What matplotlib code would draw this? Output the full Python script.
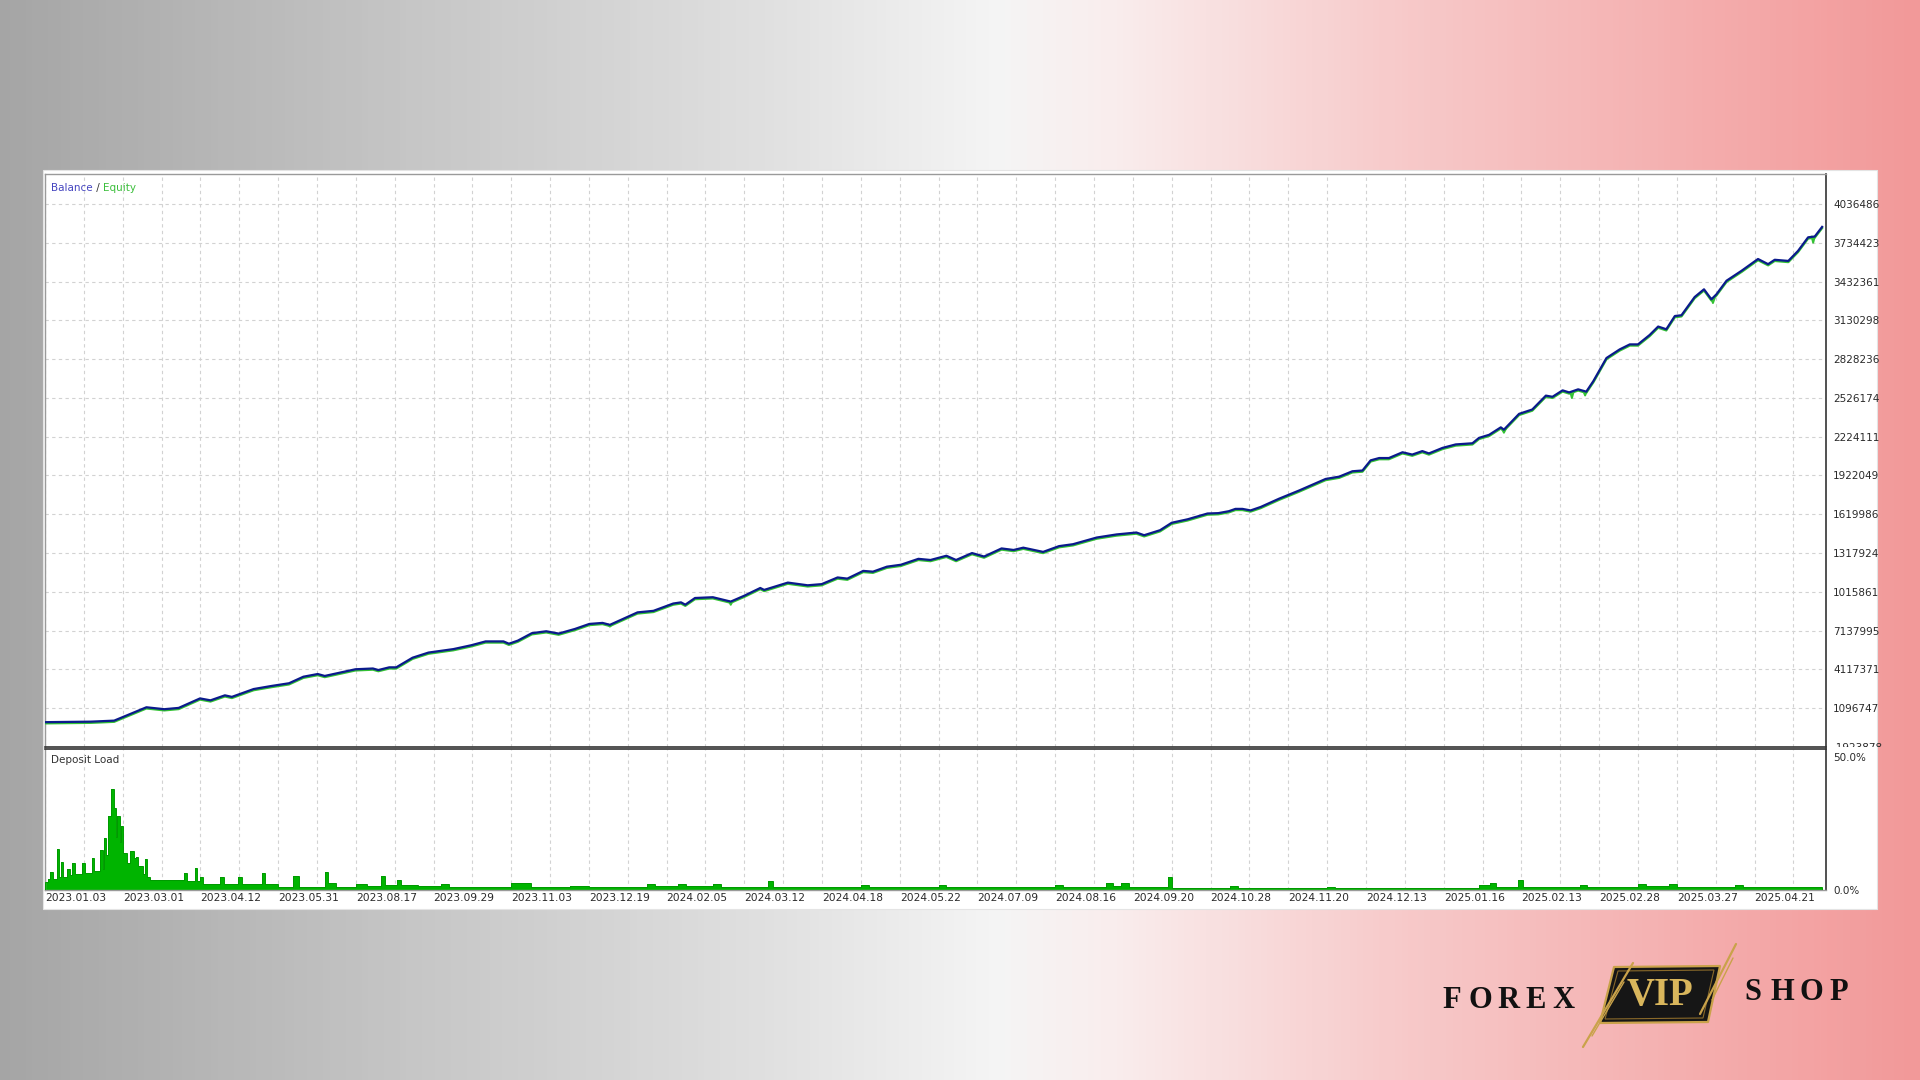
import numpy as np
import matplotlib
matplotlib.use("Agg")
import matplotlib.pyplot as plt
from matplotlib.colors import LinearSegmentedColormap
from matplotlib.patches import Rectangle, Polygon
from matplotlib.transforms import Bbox, TransformedBbox, offset_copy

# ---------------- data ----------------
date_labels = ["2023.01.03", "2023.03.01", "2023.04.12", "2023.05.31", "2023.08.17",
               "2023.09.29", "2023.11.03", "2023.12.19", "2024.02.05", "2024.03.12",
               "2024.04.18", "2024.05.22", "2024.07.09", "2024.08.16", "2024.09.20",
               "2024.10.28", "2024.11.20", "2024.12.13", "2025.01.16", "2025.02.13",
               "2025.02.28", "2025.03.27", "2025.04.21"]
date_pos = [0, 2, 4, 6, 8, 10, 12, 14, 16, 18, 20, 22, 24, 26, 28, 30, 32, 34, 36, 38, 40, 42, 44]

ytick_labels = ["-1923878", "1096747", "4117371", "7137995", "1015861", "1317924",
                "1619986", "1922049", "2224111", "2526174", "2828236", "3130298",
                "3432361", "3734423", "4036486"]
ytick_values = [-1.923878, 1.096747, 4.117371, 7.137995, 10.158619, 13.179244,
                16.199868, 19.220492, 22.241116, 25.261741, 28.282365, 31.302989,
                34.323613, 37.344238, 40.364862]  # millions

deal_pos = [0.00, 1.18, 1.78, 2.61, 3.07, 3.44, 3.99, 4.26, 4.63, 4.81, 5.37, 5.83, 6.28,
            6.65, 7.02, 7.20, 7.57, 7.99, 8.44, 8.58, 8.86, 9.04, 9.46, 9.87, 10.51, 10.97,
            11.34, 11.80, 11.94, 12.17, 12.53, 12.90, 13.22, 13.64, 14.01, 14.35, 14.54,
            15.25, 15.66, 16.17, 16.37, 16.48, 16.73, 17.19, 17.65, 18.00, 18.41, 18.51,
            19.12, 19.63, 19.99, 20.40, 20.65, 21.06, 21.31, 21.67, 22.03, 22.48, 22.79,
            23.20, 23.45, 23.86, 24.17, 24.62, 24.93, 25.18, 25.69, 26.10, 26.46, 27.07,
            27.58, 28.09, 28.29, 28.70, 29.00, 29.41, 29.92, 30.20, 30.47, 30.64, 30.82,
            31.03, 31.29, 31.76, 32.27, 32.96, 33.31, 33.65, 33.91, 34.12, 34.34, 34.59,
            34.94, 35.19, 35.45, 35.62, 35.97, 36.31, 36.74, 36.91, 37.17, 37.47, 37.55,
            37.94, 38.28, 38.63, 38.80, 39.06, 39.23, 39.46, 39.67, 39.85, 40.19, 40.53,
            40.79, 41.00, 41.30, 41.52, 41.73, 41.95, 42.12, 42.46, 42.70, 42.89, 43.02,
            43.28, 43.67, 44.09, 44.35, 44.52, 44.87, 45.12, 45.38, 45.55, 45.74]
balance_m = [0.01, 0.05, 0.13, 1.17, 1.02, 1.12, 1.86, 1.71, 2.10, 1.98, 2.59, 2.83, 3.04,
             3.55, 3.76, 3.61, 3.85, 4.13, 4.19, 4.07, 4.28, 4.28, 5.03, 5.43, 5.70, 6.00,
             6.30, 6.30, 6.12, 6.36, 6.94, 7.09, 6.91, 7.27, 7.66, 7.74, 7.59,
             8.56, 8.68, 9.25, 9.34, 9.16, 9.68, 9.74, 9.40, 9.86, 10.46, 10.31,
             10.88, 10.67, 10.76, 11.28, 11.19, 11.79, 11.73, 12.12, 12.27, 12.73, 12.64,
             12.97, 12.64, 13.18, 12.91, 13.54, 13.42, 13.60, 13.27, 13.72, 13.87, 14.39,
             14.63, 14.78, 14.57, 14.96, 15.54, 15.81, 16.26, 16.29, 16.44, 16.62, 16.62,
             16.50, 16.77, 17.41, 18.04, 18.95, 19.13, 19.55, 19.61, 20.40, 20.58, 20.58,
             21.03, 20.85, 21.12, 20.94, 21.37, 21.64, 21.73, 22.15, 22.39, 22.97, 22.79,
             24.02, 24.36, 25.44, 25.35, 25.85, 25.69, 25.93, 25.75, 26.56, 28.37, 29.04,
             29.43, 29.43, 30.16, 30.82, 30.61, 31.64, 31.70, 33.12, 33.72, 32.94, 33.33,
             34.39, 35.17, 36.08, 35.68, 36.02, 35.93, 36.71, 37.77, 37.83, 38.58]

# equity drawdown spikes: position, balance level, equity low
dip_pos = [14.54, 17.65, 37.55, 39.30, 39.64, 42.93, 45.51]
dip_top = [7.59, 9.40, 22.79, 25.70, 25.75, 33.00, 37.82]
dip_low = [7.45, 9.15, 22.55, 25.25, 25.45, 32.65, 37.35]

load_edges = [0.00, 0.08, 0.14, 0.20, 0.30, 0.36, 0.40, 0.46, 0.56, 0.64, 0.70, 0.76, 0.96,
              1.02, 1.20, 1.27, 1.42, 1.49, 1.52, 1.58, 1.62, 1.70, 1.77, 1.83, 1.86, 1.92,
              1.95, 2.00, 2.10, 2.20, 2.28, 2.34, 2.40, 2.46, 2.52, 2.58, 2.63, 2.70, 3.58,
              3.66, 3.86, 3.92, 4.00, 4.06, 4.50, 4.60, 4.98, 5.06, 5.58, 5.66, 6.00, 6.38,
              6.55, 7.20, 7.28, 7.50, 8.00, 8.30, 8.66, 8.76, 9.05, 9.15, 9.60, 10.2, 10.4,
              12.0, 12.5, 12.9, 13.5, 14.0, 15.5, 15.7, 16.3, 16.5, 17.2, 17.4, 18.6, 18.75,
              19.5, 21.0, 21.2, 23.0, 23.2, 26.0, 26.2, 27.3, 27.5, 27.7, 27.9, 28.9, 29.0,
              30.5, 30.7, 33.0, 33.2, 36.9, 37.2, 37.35, 37.9, 38.05, 39.5, 39.7, 41.0, 41.2,
              41.8, 42.0, 43.5, 43.7, 45.74]
load_pct = [3.0, 4.0, 6.8, 4.0, 15.5, 5.0, 10.5, 5.0, 8.0, 5.5, 10.0, 6.0,
            10.0, 6.5, 12.0, 7.0, 15.0, 8.0, 19.5, 13.0, 28.0, 38.0, 31.0, 20.0, 28.0,
            18.0, 24.0, 14.0, 10.0, 14.5, 12.0, 12.5, 9.0, 9.0, 6.0, 11.5, 5.0, 3.8,
            6.3, 3.5, 8.3, 3.5, 5.0, 2.3, 5.0, 2.3, 5.0, 2.3, 6.3, 2.3, 1.3,
            5.2, 1.3, 6.6, 2.5, 1.3, 2.3, 1.5, 5.2, 2.0, 3.8, 1.8, 1.4, 2.2,
            1.2, 2.6, 1.3, 1.2, 1.6, 1.2, 2.3, 1.4, 2.4, 1.4, 2.2, 1.3, 3.4,
            1.3, 1.1, 2.0, 1.1, 1.8, 1.1, 2.0, 1.1, 2.7, 1.6, 2.5, 1.3, 5.0,
            0.6, 1.4, 0.6, 1.2, 0.6, 2.0, 2.8, 1.2, 3.6, 1.0, 2.0, 1.1, 2.4,
            1.4, 2.2, 1.2, 2.0, 1.2]

# ---------------- figure ----------------
W, H = 1920, 1080
fig = plt.figure(figsize=(19.2, 10.8), dpi=100)

bg = fig.add_axes([0, 0, 1, 1], zorder=0)
cmap = LinearSegmentedColormap.from_list(
    "bg", [(0.0, (0.65, 0.65, 0.65)), (0.2, (0.77, 0.77, 0.77)), (0.4, (0.88, 0.88, 0.88)),
           (0.52, (0.96, 0.96, 0.96)), (0.58, (0.98, 0.93, 0.93)), (0.72, (0.97, 0.80, 0.80)),
           (0.86, (0.96, 0.70, 0.70)), (1.0, (0.95, 0.60, 0.60))])
bg.imshow(np.linspace(0, 1, 600)[None, :], cmap=cmap, extent=[0, W, H, 0], aspect="auto")
bg.set_xlim(0, W)
bg.set_ylim(H, 0)
bg.axis("off")
bg.add_patch(Rectangle((43, 170), 1834, 739, facecolor="white", edgecolor="#e4e4e4", lw=0.8))

# logo
serif = ["Liberation Serif", "DejaVu Serif"]
for ch, xc in zip("FOREX", [1452, 1480, 1508, 1536, 1563]):
    bg.text(xc, 1000, ch, ha="center", va="center", fontsize=22, family=serif,
            weight="bold", color="#111111")
for ch, xc in zip("SHOP", [1753, 1782, 1811, 1839]):
    bg.text(xc, 993, ch, ha="center", va="center", fontsize=22, family=serif,
            weight="bold", color="#111111")
gold = "#c9a24a"
for (x0, y0, x1, y1, lw) in [(1583, 1047, 1633, 963, 1.6), (1592, 1036, 1624, 982, 1.0),
                             (1700, 1014, 1736, 944, 1.6), (1712, 1000, 1733, 958, 1.0)]:
    bg.plot([x0, x1], [y0, y1], color=gold, lw=lw, solid_capstyle="round")
bg.add_patch(Polygon([(1614, 967), (1720, 966), (1708, 1022), (1600, 1023)], closed=True,
                     facecolor="#161616", edgecolor=gold, lw=1.6, joinstyle="round"))
bg.add_patch(Polygon([(1618, 971), (1714, 970), (1703, 1018), (1605, 1019)], closed=True,
                     facecolor="none", edgecolor="#8a6a2a", lw=0.8))
bg.text(1660, 996, "VIP", ha="center", va="center", fontsize=28, family=serif,
        weight="bold", color="#d9b65c")

# ---------------- main chart ----------------
left = 45 / W
width = (1826 - 45) / W
ax = fig.add_axes([left, 1 - 747 / H, width, (747 - 174) / H], zorder=2)
ax.set_facecolor("white")
xmax = 45.84
ax.set_xlim(0, xmax)
ax.set_ylim(-1.923878, 42.70)

grid_kw = dict(color="#d2d2d2", linestyle=(0, (3, 3)), lw=0.8)
ax.set_xticks(range(0, 46))
ax.set_yticks(ytick_values)
ax.set_yticklabels(ytick_labels)
ax.grid(True, axis="both", **grid_kw)
ax.set_axisbelow(True)
ax.tick_params(axis="x", length=0, labelbottom=False)
ax.tick_params(axis="y", length=0, left=False, labelleft=False, right=True, labelright=True,
               pad=5, labelsize=7.5, labelcolor="#2a2a2a")
for s in ("left", "top"):
    ax.spines[s].set_color("#9a9a9a")
    ax.spines[s].set_linewidth(1.0)
for s in ("right", "bottom"):
    ax.spines[s].set_color("#333333")
    ax.spines[s].set_linewidth(1.2)

# clip the lowest value label at the panel separator
clip = TransformedBbox(Bbox([[1.0, 0.0], [1.2, 1.0]]), ax.transAxes)
for lab in ax.yaxis.get_majorticklabels():
    if lab.get_text() == ytick_labels[0]:
        lab.set_clip_on(True)
        lab.set_clip_box(clip)

eq_tr = offset_copy(ax.transData, fig=fig, x=0, y=-1.2, units="dots")
ax.plot(deal_pos, balance_m, color="#33c233", lw=1.6, transform=eq_tr, zorder=3,
        solid_joinstyle="round")
for p, t, l in zip(dip_pos, dip_top, dip_low):
    ax.plot([p - 0.04, p, p + 0.04], [t, l, t], color="#33c233", lw=1.4, zorder=3)
ax.plot(deal_pos, balance_m, color="#0b1a8c", lw=1.6, zorder=4, solid_joinstyle="round")

leg = ax.text(0.0035, 0.9755, "Balance", transform=ax.transAxes, fontsize=7.5,
              color="#4545c0", ha="left", va="center")
sep = ax.annotate(" / ", xy=(1, 0), xycoords=leg, fontsize=7.5, color="#333333",
                  ha="left", va="bottom")
ax.annotate("Equity", xy=(1, 0), xycoords=sep, fontsize=7.5, color="#3cbf3c",
            ha="left", va="bottom")

# ---------------- deposit load ----------------
ax2 = fig.add_axes([left, 1 - 890 / H, width, (890 - 749) / H], zorder=2)
ax2.set_facecolor("white")
ax2.set_xlim(0, xmax)
ax2.set_ylim(0, 53.0)
ax2.stairs(load_pct, load_edges, fill=True, color="#00b400", zorder=2)
ax2.stairs(load_pct, load_edges, color="#009a00", lw=0.7, zorder=3)
ax2.set_xticks(date_pos)
ax2.set_xticklabels(date_labels, ha="left")
ax2.set_xticks(range(1, 46, 2), minor=True)
ax2.grid(True, axis="x", which="both", **grid_kw)
ax2.set_axisbelow(True)
ax2.set_yticks([0, 50])
ax2.set_yticklabels(["0.0%", "50.0%"])
ax2.tick_params(axis="x", which="both", length=0, pad=2, labelsize=7.7, labelcolor="#2a2a2a")
ax2.tick_params(axis="y", length=0, left=False, labelleft=False, right=True, labelright=True,
                pad=5, labelsize=7.5, labelcolor="#2a2a2a")
for s in ("left", "bottom"):
    ax2.spines[s].set_color("#9a9a9a")
    ax2.spines[s].set_linewidth(1.0)
for s in ("right", "top"):
    ax2.spines[s].set_color("#333333")
    ax2.spines[s].set_linewidth(1.2)
ax2.text(0.0035, 0.92, "Deposit Load", transform=ax2.transAxes, fontsize=7.5,
         color="#333333", ha="left", va="center")

fig.savefig("out.png", dpi=100)
